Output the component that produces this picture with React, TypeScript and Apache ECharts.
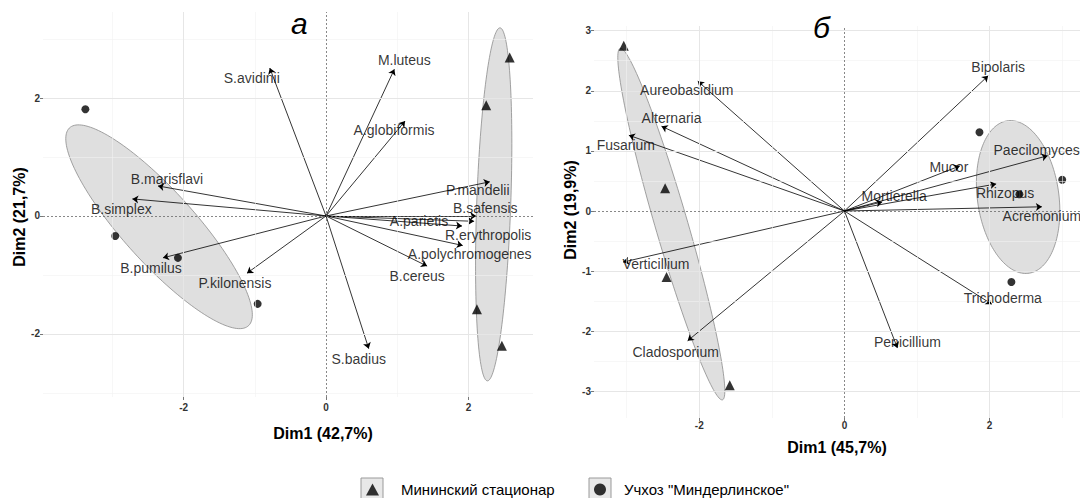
import React, { useEffect, useRef } from "react";
import * as echarts from "echarts";

const FONT = '"Liberation Sans", Arial, Helvetica, sans-serif';

// ---------- Panel а (bacteria) ----------
const bactNames = [
  "S.avidinii", "M.luteus", "A.globiformis", "P.mandelii", "B.safensis", "A.parietis",
  "R.erythropolis", "A.polychromogenes", "B.cereus", "S.badius", "B.marisflavi",
  "B.simplex", "B.pumilus", "P.kilonensis",
];
const bactDim1 = [-0.79, 0.96, 1.11, 2.3, 2.11, 1.91, 2.08, 1.92, 1.42, 0.6, -2.36, -2.72, -2.29, -1.11];
const bactDim2 = [2.51, 2.49, 1.61, 0.58, 0.0, -0.17, -0.09, -0.5, -0.85, -2.25, 0.51, 0.29, -0.71, -0.97];
const bactLabelOffsets = [
  [-18, 10], [10, -9], [-11, 9], [-12, 8], [9, -8], [-43, -5], [14, 14],
  [7, 9], [-10, 10], [-10, 10], [9, -7], [-11, 10], [-12, 10], [-12, 10],
];
const aTriX = [2.58, 2.25, 2.12, 2.47];
const aTriY = [2.69, 1.88, -1.58, -2.2];
const aCirX = [-3.38, -2.96, -2.08, -0.96];
const aCirY = [1.81, -0.34, -0.71, -1.49];

// ---------- Panel б (fungi) ----------
const fungiNames = [
  "Aureobasidium", "Alternaria", "Fusarium", "Verticillium", "Cladosporium", "Penicillium",
  "Trichoderma", "Bipolaris", "Paecilomyces", "Mucor", "Rhizopus", "Acremonium", "Mortierella",
];
const fungiDim1 = [-2.02, -2.52, -2.97, -3.05, -2.16, 0.73, 2.03, 1.98, 2.8, 1.59, 2.09, 2.72, 0.52];
const fungiDim2 = [2.16, 1.41, 1.26, -0.85, -2.16, -2.28, -1.55, 2.25, 0.92, 0.75, 0.45, 0.07, 0.15];
const fungiLabelOffsets = [
  [-11, 9], [10, -8], [-3, 10], [33, 2], [-12, 11], [10, -6], [11, -6],
  [10, -9], [-11, -6], [-11, 1], [9, 9], [0, 9], [12, -6],
];
const bTriX = [-3.04, -2.47, -2.45, -1.58];
const bTriY = [2.75, 0.38, -1.1, -2.9];
const bCirX = [1.86, 3.0, 2.41, 2.3];
const bCirY = [1.31, 0.52, 0.28, -1.18];

// ---------- ticks / grid breaks ----------
const aXMajor = [-2, 0, 2];
const aXMinor = [-3, -1, 1];
const aYMajor = [-2, 0, 2];
const aYMinor = [-3, -1, 1, 3];
const bXMajor = [-2, 0, 2];
const bXMinor = [-3, -1, 1, 3];
const bYMajor = [-3, -2, -1, 0, 1, 2, 3];
const bYMinor = [-2.5, -1.5, -0.5, 0.5, 1.5, 2.5];

const groupTri = "Мининский стационар";
const groupCir = 'Учхоз "Миндерлинское"';

function ellipsePoints(xs: number[], ys: number[]) {
  const n = xs.length;
  const mx = xs.reduce((s, v) => s + v, 0) / n;
  const my = ys.reduce((s, v) => s + v, 0) / n;
  let sxx = 0, syy = 0, sxy = 0;
  for (let i = 0; i < n; i++) {
    sxx += (xs[i] - mx) ** 2;
    syy += (ys[i] - my) ** 2;
    sxy += (xs[i] - mx) * (ys[i] - my);
  }
  sxx /= n - 1; syy /= n - 1; sxy /= n - 1;
  const r = Math.sqrt(5.991464547) / Math.sqrt(n);
  const a = Math.sqrt(sxx);
  const b = sxy / a;
  const c = Math.sqrt(Math.max(syy - b * b, 0));
  const pts: number[][] = [];
  for (let i = 0; i <= 160; i++) {
    const t = (2 * Math.PI * i) / 160;
    pts.push([mx + r * a * Math.cos(t), my + r * (b * Math.cos(t) + c * Math.sin(t))]);
  }
  return { pts, mx, my };
}

function gridSeries(g: number, xMajor: number[], xMinor: number[], yMajor: number[], yMinor: number[]) {
  const minor = { color: "#f1f1f1", width: 0.6, type: "solid" };
  const major = { color: "#e6e6e6", width: 1, type: "solid" };
  const data: any[] = [];
  xMinor.forEach((v) => data.push({ xAxis: v, lineStyle: minor }));
  yMinor.forEach((v) => data.push({ yAxis: v, lineStyle: minor }));
  xMajor.filter((v) => v !== 0).forEach((v) => data.push({ xAxis: v, lineStyle: major }));
  yMajor.filter((v) => v !== 0).forEach((v) => data.push({ yAxis: v, lineStyle: major }));
  return {
    type: "scatter", xAxisIndex: g, yAxisIndex: g, data: [], z: 0, silent: true,
    markLine: { silent: true, symbol: ["none", "none"], label: { show: false }, animation: false, data },
  };
}

function zeroSeries(g: number) {
  const st = { color: "#6a6a6a", width: 0.8, type: [2, 2] };
  return {
    type: "scatter", xAxisIndex: g, yAxisIndex: g, data: [], z: 2, silent: true,
    markLine: {
      silent: true, symbol: ["none", "none"], label: { show: false }, animation: false,
      data: [{ xAxis: 0, lineStyle: st }, { yAxis: 0, lineStyle: st }],
    },
  };
}

function ellipseSeries(g: number, xs: number[], ys: number[]) {
  const e = ellipsePoints(xs, ys);
  return {
    type: "custom", xAxisIndex: g, yAxisIndex: g, z: 1, silent: true,
    data: [[e.mx, e.my]],
    renderItem: (_p: any, api: any) => ({
      type: "polygon",
      shape: { points: e.pts.map((p) => api.coord(p)) },
      style: { fill: "rgba(150,150,150,0.3)", stroke: "#8c8c8c", lineWidth: 0.8 },
    }),
  };
}

function arrowSeries(g: number, xs: number[], ys: number[]) {
  return {
    type: "lines", coordinateSystem: "cartesian2d", xAxisIndex: g, yAxisIndex: g, z: 3, silent: true,
    symbol: ["none", "arrow"], symbolSize: 6,
    lineStyle: { color: "#000", width: 0.8, opacity: 1, curveness: 0 },
    data: xs.map((x, i) => ({ coords: [[0, 0], [x, ys[i]]] })),
  };
}

function labelSeries(g: number, names: string[], xs: number[], ys: number[], offs: number[][]) {
  return {
    type: "scatter", xAxisIndex: g, yAxisIndex: g, z: 5, silent: true, symbolSize: 1,
    itemStyle: { color: "rgba(0,0,0,0)" },
    label: { show: true, position: "inside", formatter: "{b}", fontSize: 14, color: "#000", fontFamily: FONT },
    data: names.map((n, i) => ({ name: n, value: [xs[i], ys[i]], label: { offset: offs[i] } })),
  };
}

function siteSeries(g: number, name: string, xs: number[], ys: number[], symbol: string, size: number) {
  return {
    type: "scatter", name, xAxisIndex: g, yAxisIndex: g, z: 4, silent: true,
    symbol, symbolSize: size, itemStyle: { color: "#000" },
    data: xs.map((x, i) => [x, ys[i]]),
  };
}

function xAxisCfg(g: number, min: number, max: number, ticks: number[], name: string, gap: number, margin: number, pad: number[]) {
  return {
    gridIndex: g, type: "value", min, max,
    axisLine: { show: false, onZero: false },
    splitLine: { show: false },
    axisTick: { show: true, customValues: ticks, length: 3, lineStyle: { color: "#555", width: 0.8 } },
    axisLabel: { customValues: ticks, fontSize: 10, fontWeight: "bold", color: "#333", margin, fontFamily: FONT },
    name, nameLocation: "middle", nameGap: gap,
    nameTextStyle: { fontSize: 16, fontWeight: "bold", color: "#000", fontFamily: FONT, padding: pad },
  };
}

function yAxisCfg(g: number, min: number, max: number, ticks: number[], name: string, pad: number[]) {
  return {
    gridIndex: g, type: "value", min, max,
    axisLine: { show: false, onZero: false },
    splitLine: { show: false },
    axisTick: { show: true, customValues: ticks, length: 3, lineStyle: { color: "#555", width: 0.8 } },
    axisLabel: { customValues: ticks, fontSize: 10, fontWeight: "bold", color: "#333", margin: 3, fontFamily: FONT },
    name, nameLocation: "middle", nameGap: 16,
    nameTextStyle: { fontSize: 16, fontWeight: "bold", color: "#000", fontFamily: FONT, padding: pad },
  };
}

export default function App() {
  const ref = useRef<HTMLDivElement>(null);
  useEffect(() => {
    if (!ref.current) return;
    const chart = echarts.init(ref.current, undefined, { renderer: "svg" });
    const option: any = {
      animation: false,
      backgroundColor: "#fff",
      textStyle: { fontFamily: FONT },
      title: [
        { text: "а", left: 291, top: 8, padding: 0, textStyle: { fontSize: 30, fontStyle: "italic", fontWeight: "normal", color: "#000", fontFamily: FONT } },
        { text: "б", left: 813, top: 12, padding: 0, textStyle: { fontSize: 30, fontStyle: "italic", fontWeight: "normal", color: "#000", fontFamily: FONT } },
      ],
      grid: [
        { left: 43, top: 12, width: 490, height: 385 },
        { left: 594, top: 26, right: 0, height: 392 },
      ],
      xAxis: [
        xAxisCfg(0, -3.975, 2.907, aXMajor, "Dim1 (42,7%)", 28, 5, [0, 0, 0, 70]),
        xAxisCfg(1, -3.45, 3.245, bXMajor, "Dim1 (45,7%)", 21, 2, [0, 0, 0, 0]),
      ],
      yAxis: [
        yAxisCfg(0, -3.07, 3.46, aYMajor, "Dim2 (21,7%)", [0, 25, 0, 0]),
        yAxisCfg(1, -3.444, 3.078, bYMajor, "Dim2 (19,9%)", [0, 0, 0, 24]),
      ],
      legend: [
        {
          left: 366, top: 482, padding: 0, itemWidth: 13, itemHeight: 12, selectedMode: false,
          data: [{ name: groupTri, icon: "triangle" }],
          textStyle: { fontSize: 15, lineHeight: 14, color: "#000", fontFamily: FONT, padding: [0, 0, 0, 17] },
        },
        {
          left: 594, top: 482, padding: 0, itemWidth: 12, itemHeight: 12, selectedMode: false,
          data: [{ name: groupCir, icon: "circle" }],
          textStyle: { fontSize: 15, lineHeight: 14, color: "#000", fontFamily: FONT, padding: [0, 0, 0, 13] },
        },
      ],
      graphic: [
        { type: "rect", x: 361, y: 478, shape: { width: 22, height: 22 }, style: { fill: "#e8e8e8", stroke: "#9a9a9a", lineWidth: 1 }, z: -1 },
        { type: "rect", x: 589, y: 478, shape: { width: 22, height: 22 }, style: { fill: "#e8e8e8", stroke: "#9a9a9a", lineWidth: 1 }, z: -1 },
      ],
      series: [
        gridSeries(0, aXMajor, aXMinor, aYMajor, aYMinor),
        gridSeries(1, bXMajor, bXMinor, bYMajor, bYMinor),
        ellipseSeries(0, aTriX, aTriY),
        ellipseSeries(0, aCirX, aCirY),
        ellipseSeries(1, bTriX, bTriY),
        ellipseSeries(1, bCirX, bCirY),
        zeroSeries(0),
        zeroSeries(1),
        arrowSeries(0, bactDim1, bactDim2),
        arrowSeries(1, fungiDim1, fungiDim2),
        siteSeries(0, groupTri, aTriX, aTriY, "triangle", 10),
        siteSeries(0, groupCir, aCirX, aCirY, "circle", 8),
        siteSeries(1, groupTri, bTriX, bTriY, "triangle", 10),
        siteSeries(1, groupCir, bCirX, bCirY, "circle", 8),
        labelSeries(0, bactNames, bactDim1, bactDim2, bactLabelOffsets),
        labelSeries(1, fungiNames, fungiDim1, fungiDim2, fungiLabelOffsets),
      ],
    };
    chart.setOption(option);
    return () => chart.dispose();
  }, []);
  return (
    <div
      ref={ref}
      style={{ position: "fixed", left: 0, top: 0, width: 1080, height: 498, background: "#fff" }}
    />
  );
}
